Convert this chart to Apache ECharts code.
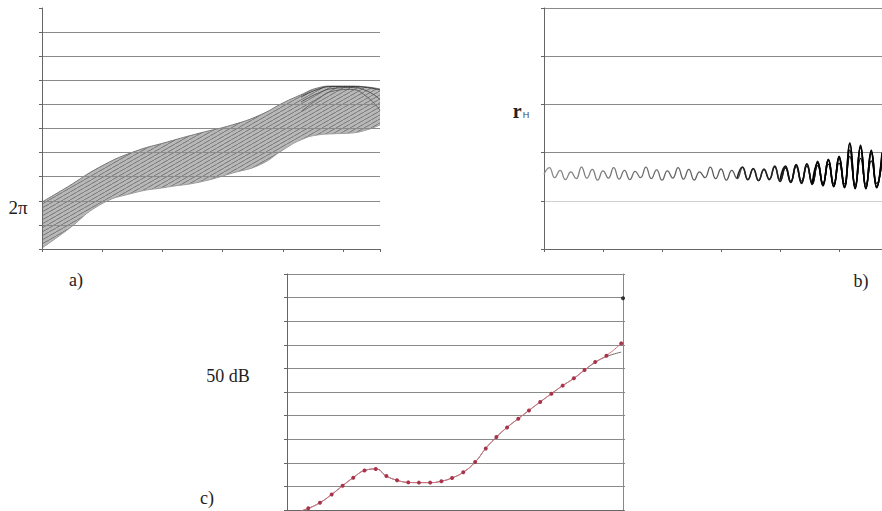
<!DOCTYPE html>
<html>
<head>
<meta charset="utf-8">
<script src="https://cdn.jsdelivr.net/npm/echarts@6/dist/echarts.min.js"></script>
<style>
  html, body { margin: 0; padding: 0; background: #fff; }
  #main { width: 882px; height: 511px; }
</style>
</head>
<body>
<div id="main"></div>
<script>
// a) phase band: upper and lower edge of the family of curves
var phaseX = [0, 0.42, 0.96, 1.51, 2.08, 2.62, 3.16, 3.62, 4.0, 4.29, 4.57, 4.83, 5.12, 5.40, 5.61];
var phaseUpper = [1.95, 2.57, 3.40, 4.02, 4.44, 4.81, 5.15, 5.56, 6.06, 6.39, 6.68, 6.76, 6.76, 6.72, 6.64];
var phaseLower = [0.04, 0.79, 1.83, 2.32, 2.57, 2.78, 3.15, 3.50, 4.11, 4.52, 4.73, 4.78, 4.81, 4.95, 5.15];
// dark strands in the knot at the top right of a)
var knotX = [4.30, 4.57, 4.83, 5.12, 5.40, 5.61];
var knot1 = [6.30, 6.62, 6.74, 6.74, 6.70, 6.60];
var knot2 = [6.10, 6.45, 6.66, 6.70, 6.55, 6.20];
var knot3 = [5.70, 6.20, 6.55, 6.62, 6.30, 5.75];

// b) r_H, one value per half wave
var rhMain = [1.55, 1.69, 1.48, 1.63, 1.44, 1.60, 1.46, 1.70, 1.47, 1.65,
              1.43, 1.62, 1.47, 1.69, 1.45, 1.63, 1.44, 1.61, 1.48, 1.70,
              1.46, 1.64, 1.43, 1.62, 1.47, 1.69, 1.45, 1.65, 1.43, 1.60,
              1.48, 1.70, 1.46, 1.66, 1.43, 1.63, 1.46, 1.69, 1.44, 1.66,
              1.42, 1.64, 1.45, 1.70, 1.42, 1.68, 1.40, 1.71, 1.41, 1.72,
              1.38, 1.73, 1.37, 1.76, 1.36, 1.78, 1.35, 1.92, 1.33, 1.88,
              1.34, 1.83, 1.36, 1.80];
var rhStrand1 = [1.47, 1.70, 1.44, 1.67, 1.42, 1.66, 1.44, 1.72, 1.40, 1.70,
                 1.38, 1.74, 1.37, 1.76, 1.35, 1.80, 1.33, 1.84, 1.31, 1.88,
                 1.30, 2.18, 1.28, 2.10, 1.27, 1.98, 1.30, 1.90];  // from 36
var rhStrand2 = [1.44, 1.72, 1.39, 1.75, 1.36, 1.77, 1.34, 1.82, 1.31, 1.86,
                 1.29, 1.92, 1.27, 2.05, 1.25, 2.12, 1.26, 2.02, 1.28, 1.95]; // from 44
var rhStrand3 = [1.36, 1.78, 1.33, 1.85, 1.30, 1.92, 1.28, 2.20, 1.26, 2.15,
                 1.25, 2.05, 1.27, 2.00]; // from 50

// c) dB curve
var dbX = [0.16, 0.36, 0.557, 0.755, 0.94, 1.12, 1.31, 1.50, 1.68, 1.86, 2.05, 2.23, 2.42, 2.61, 2.79,
           2.98, 3.18, 3.36, 3.54, 3.72, 3.91, 4.09, 4.28, 4.47, 4.66, 4.85, 5.03, 5.21, 5.40, 5.65];
var dbRed = [-0.1, 0.07, 0.31, 0.66, 1.03, 1.37, 1.67, 1.74, 1.44, 1.26, 1.17, 1.16, 1.16, 1.22, 1.36,
             1.60, 2.03, 2.61, 3.09, 3.50, 3.87, 4.22, 4.58, 4.93, 5.27, 5.58, 5.93, 6.27, 6.54, 7.06];
var dbGray = [-0.1, 0.07, 0.31, 0.66, 1.03, 1.37, 1.67, 1.74, 1.44, 1.26, 1.17, 1.16, 1.16, 1.22, 1.36,
              1.60, 2.03, 2.61, 3.09, 3.50, 3.87, 4.22, 4.58, 4.93, 5.27, 5.58, 5.93, 6.25, 6.50, 6.69];
var dbDot = [5.68, 8.97];

function pairs(xs, ys) {
    return xs.map(function (x, i) { return [x, ys[i]]; });
}
function padFrom(start, vals) {
    return new Array(start).fill(null).concat(vals);
}
function hatch() {
    var c = document.createElement('canvas');
    c.width = 7; c.height = 4;
    var g = c.getContext('2d');
    g.fillStyle = '#b8b8b8';
    g.fillRect(0, 0, 7, 4);
    g.strokeStyle = '#777';
    g.lineWidth = 1;
    g.beginPath(); g.moveTo(0, 4); g.lineTo(7, 0); g.stroke();
    return c;
}

var rhCats = rhMain.map(function (v, i) { return String(i); });
var axisGray = '#666';
var gridGray = '#8a8a8a';
var serif = '"Liberation Serif", "DejaVu Serif", serif';

function yAx(grid, max, extra) {
    var a = {
        gridIndex: grid, type: 'value', min: 0, max: max, interval: 1,
        axisLabel: { show: false },
        axisLine: { show: true, lineStyle: { color: axisGray } },
        axisTick: { show: true, length: 3, lineStyle: { color: axisGray } },
        splitLine: { show: true, lineStyle: { color: gridGray } }
    };
    return Object.assign(a, extra || {});
}
function xAx(grid, max, extra) {
    var a = {
        gridIndex: grid, type: 'value', min: 0, max: max, interval: 1,
        axisLabel: { show: false },
        axisLine: { show: true, onZero: false, lineStyle: { color: axisGray } },
        axisTick: { show: true, length: 3, lineStyle: { color: axisGray } },
        splitLine: { show: false }
    };
    return Object.assign(a, extra || {});
}

var myChart = echarts.init(document.getElementById('main'), null, { renderer: 'svg' });
var option = {
    animation: false,
    backgroundColor: '#fff',
    grid: [
        { left: 42, top: 8, width: 338, height: 241 },
        { left: 544, top: 8, right: -8, height: 241 },
        { left: 287, top: 274, width: 336, height: 236 }
    ],
    xAxis: [
        xAx(0, 5.61, { z: 10 }),
        {
            gridIndex: 1, type: 'category', data: rhCats, boundaryGap: false,
            axisLabel: { show: false },
            axisLine: { show: true, lineStyle: { color: axisGray } },
            axisTick: { show: true, interval: 10, length: 3, lineStyle: { color: axisGray } },
            splitLine: { show: false }
        },
        xAx(2, 5.68)
    ],
    yAxis: [
        yAx(0, 10, { z: 10, splitLine: { show: true, showMaxLine: false, lineStyle: { color: gridGray } } }),
        yAx(1, 5, { splitLine: { show: true, lineStyle: { color: [gridGray, '#cfcfcf', gridGray, gridGray, gridGray, gridGray] } } }),
        yAx(2, 10),
        {
            gridIndex: 2, type: 'value', position: 'right', min: 0, max: 10, interval: 1,
            axisLabel: { show: false },
            axisLine: { show: true, lineStyle: { color: '#888' } },
            axisTick: { show: true, length: 2, lineStyle: { color: '#888' } },
            splitLine: { show: false }
        }
    ],
    graphic: [
        { type: 'text', x: 18, y: 207, style: { text: '2π', font: '19px ' + serif, fill: '#222', align: 'center', verticalAlign: 'middle' } },
        { type: 'text', x: 76, y: 280, style: { text: 'a)', font: '18px ' + serif, fill: '#222', align: 'center', verticalAlign: 'middle' } },
        { type: 'text', x: 861, y: 281, style: { text: 'b)', font: '18px ' + serif, fill: '#222', align: 'center', verticalAlign: 'middle' } },
        { type: 'text', x: 207, y: 498, style: { text: 'c)', font: '18px ' + serif, fill: '#222', align: 'center', verticalAlign: 'middle' } },
        { type: 'text', x: 228, y: 376, style: { text: '50 dB', font: '18px ' + serif, fill: '#222', align: 'center', verticalAlign: 'middle' } },
        {
            type: 'text', x: 521, y: 111,
            style: {
                text: '{r|r}{h|H}', fill: '#222', align: 'center', verticalAlign: 'middle',
                rich: {
                    r: { font: 'bold 20px ' + serif, fill: '#222', color: '#222' },
                    h: { font: '9px "Liberation Sans", sans-serif', fill: '#444', color: '#444', padding: [8, 0, 0, 1] }
                }
            }
        }
    ],
    series: [
        // a) band: hatched area under the upper edge, white area under the lower edge
        {
            type: 'line', xAxisIndex: 0, yAxisIndex: 0, smooth: true, symbol: 'none',
            data: pairs(phaseX, phaseUpper),
            lineStyle: { color: '#777', width: 1 },
            areaStyle: { color: { image: hatch(), repeat: 'repeat' }, opacity: 1 }
        },
        {
            type: 'line', xAxisIndex: 0, yAxisIndex: 0, smooth: true, symbol: 'none',
            data: pairs(phaseX, phaseLower),
            lineStyle: { color: '#9a9a9a', width: 1 },
            areaStyle: { color: '#fff', opacity: 1 }
        },
        { type: 'line', xAxisIndex: 0, yAxisIndex: 0, smooth: true, symbol: 'none', data: pairs(knotX, knot1), lineStyle: { color: '#222', width: 0.8 } },
        { type: 'line', xAxisIndex: 0, yAxisIndex: 0, smooth: true, symbol: 'none', data: pairs(knotX, knot2), lineStyle: { color: '#444', width: 0.8 } },
        { type: 'line', xAxisIndex: 0, yAxisIndex: 0, smooth: true, symbol: 'none', data: pairs(knotX, knot3), lineStyle: { color: '#555', width: 0.8 } },
        // b)
        {
            type: 'line', xAxisIndex: 1, yAxisIndex: 1, smooth: true, symbol: 'none', data: rhMain,
            lineStyle: {
                width: 1.3,
                color: new echarts.graphic.LinearGradient(0, 0, 1, 0, [
                    { offset: 0, color: '#8a8a8a' }, { offset: 0.55, color: '#555' },
                    { offset: 0.8, color: '#111' }, { offset: 1, color: '#000' }
                ])
            }
        },
        { type: 'line', xAxisIndex: 1, yAxisIndex: 1, smooth: true, symbol: 'none', data: padFrom(36, rhStrand1), lineStyle: { color: '#222', width: 1.6 } },
        { type: 'line', xAxisIndex: 1, yAxisIndex: 1, smooth: true, symbol: 'none', data: padFrom(44, rhStrand2), lineStyle: { color: '#111', width: 1.6 } },
        { type: 'line', xAxisIndex: 1, yAxisIndex: 1, smooth: true, symbol: 'none', data: padFrom(50, rhStrand3), lineStyle: { color: '#000', width: 1.6 } },
        // c)
        {
            type: 'line', xAxisIndex: 2, yAxisIndex: 2, smooth: true, symbol: 'none',
            data: pairs(dbX, dbGray), lineStyle: { color: '#6d6d6d', width: 1 }
        },
        {
            type: 'line', xAxisIndex: 2, yAxisIndex: 2, smooth: true, symbol: 'circle', symbolSize: 4,
            data: pairs(dbX, dbRed),
            lineStyle: { color: '#d9707f', width: 1 },
            itemStyle: { color: '#a8344a', borderWidth: 0 }
        },
        {
            type: 'scatter', xAxisIndex: 2, yAxisIndex: 2, symbolSize: 4,
            data: [dbDot], itemStyle: { color: '#111' }
        }
    ]
};
myChart.setOption(option);
</script>
</body>
</html>
